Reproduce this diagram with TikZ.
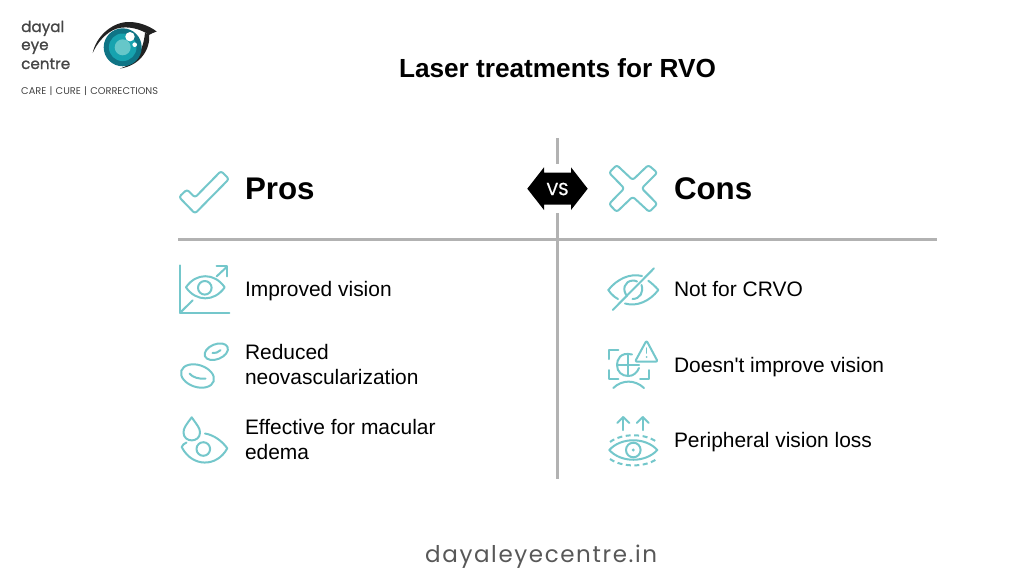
\documentclass[tikz,border=0pt]{standalone}
\usepackage{fontspec}
\newfontfamily\lib{Liberation Sans}
\newfontfamily\pop{Poppins}
\newfontfamily\popb[FakeBold=1]{Poppins}
\newfontfamily\pops[LetterSpace=7]{Poppins}
\definecolor{teal1}{HTML}{74C7CB}
\definecolor{rule1}{HTML}{B2B2B2}
\definecolor{logotxt}{HTML}{454545}
\definecolor{iris1}{HTML}{0F7485}
\definecolor{iris2}{HTML}{17A3AF}
\definecolor{iris3}{HTML}{66C7C9}
\definecolor{lash}{HTML}{222222}
\tikzset{
 txt/.style={anchor=base west,inner sep=0pt,outer sep=0pt,text=black,font=\lib\fontsize{20.95}{24}\selectfont},
 head/.style={txt,font=\lib\bfseries\fontsize{31.3}{36}\selectfont},
 ico/.style={draw=teal1,line width=2pt,line cap=round,line join=round},
 rulel/.style={draw=rule1,line width=2.4pt},
 logol/.style={anchor=base west,inner sep=0pt,text=logotxt,font=\popb\fontsize{15.2}{16}\selectfont},
}
\begin{document}
\begin{tikzpicture}[x=1pt,y=-1pt]
\useasboundingbox[fill=white] (0,0) rectangle (1024,576);
% logo
\node[logol] (l1) at (21,32) {dayal};
\node[logol] (l2) at (21,50) {eye};
\node[logol] (l3) at (21,69) {centre};
\node[anchor=base west,inner sep=0pt,text=logotxt,font=\pop\fontsize{9.8}{10}\selectfont] (l4) at (21,94) {CARE\,\,|\,\,CURE\,\,|\,\,CORRECTIONS};
\fill[lash] (92.7,53) .. controls (96,37) and (111,23) .. (127,22) .. controls (137,21.5) and (148,25) .. (156.7,31.5)
 .. controls (153,33) and (151,33.5) .. (149,35) .. controls (141,29) and (128,25.5) .. (117,28.5) .. controls (106,32) and (97,43) .. (92.7,53) -- cycle;
\fill[lash] (149,34) .. controls (151,50) and (139,66) .. (120,68.5) .. controls (135,64) and (143,52) .. (145,33) -- cycle;
\fill[iris1] (122.7,47.3) circle[radius=19pt];
\fill[iris2] (122.7,47.3) circle[radius=13.8pt];
\fill[iris3] (122.7,47.3) circle[radius=8pt];
\fill[white] (130,36.7) circle[radius=4.7pt];
\fill[white] (134.7,44.7) circle[radius=2.3pt];
% title
\node[txt,font=\lib\bfseries\fontsize{26.2}{30}\selectfont] (title) at (399,77) {Laser treatments for RVO};
% rules
\coordinate (v1) at (557.5,138);\coordinate (v2) at (557.5,164);
\coordinate (v3) at (557.5,213);\coordinate (v4) at (557.5,479);
\coordinate (h1) at (178,239.5);\coordinate (h2) at (937,239.5);
\draw[rulel] (v1)--(v2);
\draw[rulel] (v3)--(v4);
\draw[rulel] (h1)--(h2);
% VS
\fill[black] (527.3,188.7)--(544,167.3)--(544,172.7)--(571,172.7)--(571,167.3)--(587.7,188.7)--(571,210)--(571,204.7)--(544,204.7)--(544,210)--cycle;
\node[inner sep=0pt,text=white,font=\popb\fontsize{17.5}{20}\selectfont] (vs) at (557.5,189) {VS};
% headings
\node[head] (pros) at (245,199) {Pros};
\node[head] (cons) at (674,199) {Cons};
% items
\node[txt] (p1) at (245,296) {Improved vision};
\node[txt] (p2a) at (245,359) {Reduced};
\node[txt] (p2b) at (245,384) {neovascularization};
\node[txt] (p3a) at (245,434) {Effective for macular};
\node[txt] (p3b) at (245,459) {edema};
\node[txt] (c1) at (674,296) {Not for CRVO};
\node[txt] (c2) at (674,372) {Doesn't improve vision};
\node[txt] (c3) at (674,447) {Peripheral vision loss};
% check
\draw[ico,rounded corners=2.5pt] (179,197)--(187,189.5)--(195,197.5)--(221,171)--(229,179)--(195,213.5)--cycle;
% cross
\draw[ico,rounded corners=2.5pt] (609,172.7)--(616.7,165)--(632.7,180)--(648.3,165)--(657.3,172.7)--(641.7,188.3)--(657.3,204)--(649.3,212)--(632.7,196.7)--(616.7,212)--(609,204)--(624.3,188.3)--cycle;
% improved vision
\draw[ico] (180,265.3)--(180,312.8)--(229.3,312.8);
\draw[ico] (180,312.8)--(192.7,300.3);
\draw[ico] (186,287.3) .. controls (196,272.5) and (214.5,272.5) .. (224.7,287.3) .. controls (214.5,302) and (196,302) .. (186,287.3)--cycle;
\draw[ico] (204.8,287.8) circle[radius=6.8pt];
\draw[ico] (216.7,276.3)--(226.7,267);
\draw[ico] (216.5,266.3)--(226.7,266.3)--(226.7,276.3);
% cells
\draw[ico] (216.3,351.7) ellipse[x radius=12.2pt,y radius=7.5pt,rotate=22];
\draw[ico] (212.5,353) .. controls (215,353.5) and (218,352.5) .. (220.5,350.2);
\draw[ico] (197.5,376) ellipse[x radius=17pt,y radius=11pt,rotate=-18];
\draw[ico] (189.5,373.5) .. controls (192,377) and (199,379.5) .. (205.5,378.5);
% drop eye
\draw[ico] (191.7,417.3) .. controls (186,425) and (183.5,428) .. (183.5,432.5) .. controls (183.5,443) and (200,443) .. (200,432.5) .. controls (200,428) and (197,425) .. (191.7,417.3)--cycle;
\draw[ico] (205,433.5) .. controls (214,435) and (222,441) .. (227.3,448.3) .. controls (217,467.5) and (192,467.5) .. (181.7,447) .. controls (182.5,445) and (184,443.5) .. (186.5,442.5);
\draw[ico] (203.3,449) circle[radius=6.8pt];
% not for CRVO
\draw[ico] (612.7,310)--(654,268.3);
\draw[ico] (608.3,290) .. controls (617,279) and (630,273) .. (642,276);
\draw[ico] (608.3,290) -- (611,293.5) .. controls (613,296) and (616,298) .. (618,299);
\draw[ico] (648.3,280.7) .. controls (652,283.5) and (655.5,286.5) .. (658.3,290) .. controls (650,301) and (637,307) .. (625,303.5);
\draw[ico] (627,296) .. controls (622,290) and (624,281) .. (633,280.5) .. controls (634.5,280.5) and (636,281) .. (637,281.5);
\draw[ico] (641.5,285) .. controls (644,292) and (640,299) .. (632.5,299);
% doesn't improve vision
\draw[ico] (609.3,359)--(609.3,350)--(618.3,350);
\draw[ico] (609.3,370)--(609.3,379)--(618.3,379);
\draw[ico] (640,379)--(649,379)--(649,370);
\draw[ico] (632,354.5) .. controls (620,351.5) and (617,360) .. (617,365) .. controls (617,372) and (622,376) .. (628.3,376) .. controls (633,376) and (637,373) .. (639,368);
\draw[ico] (617.5,365)--(639,365);
\draw[ico] (628.3,354.5)--(628.3,376);
\draw[ico,rounded corners=2pt] (646.5,340.5)--(635,361.7)--(657.8,361.7)--cycle;
\draw[ico,line width=1.5pt] (646.5,348)--(646.5,353);
\fill[teal1] (646.5,357) circle[radius=1pt];
\draw[ico] (613.3,388) .. controls (622,379.5) and (635,379.5) .. (644,388);
% peripheral
\foreach \ax in {623.3,642.7}{
 \draw[ico] (\ax,430)--(\ax,417);
 \draw[ico] (\ax-6,423)--(\ax,417)--(\ax+6,423);
}
\draw[ico] (609.3,450) .. controls (621,437) and (645.5,437) .. (657.3,450) .. controls (645.5,463) and (621,463) .. (609.3,450)--cycle;
\draw[ico] (633.3,450) circle[radius=7.3pt];
\fill[teal1] (633.3,450) circle[radius=1.6pt];
\draw[ico,dash pattern=on 5pt off 3.5pt,line cap=butt] (610,442) .. controls (622,433) and (645,433) .. (656.7,442);
\draw[ico,dash pattern=on 5pt off 3.5pt,line cap=butt] (610,459) .. controls (622,467.5) and (645,467.5) .. (656.7,459);
% footer
\node[anchor=base west,inner sep=0pt,text=logotxt!90!white,font=\pops\fontsize{23}{28}\selectfont] (foot) at (425,562) {dayaleyecentre.in};
\end{tikzpicture}
\end{document}
